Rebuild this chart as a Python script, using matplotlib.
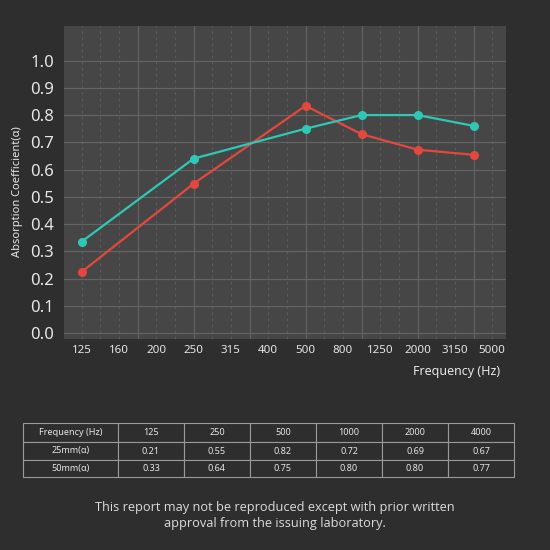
import numpy as np
import matplotlib
matplotlib.use("Agg")
import matplotlib.pyplot as plt

# ---- data ----
tick_freqs = [125, 160, 200, 250, 315, 400, 500, 800, 1250, 2000, 3150, 5000]
freqs = [125, 250, 500, 1000, 2000, 4000]
plot_25mm = [0.224, 0.548, 0.834, 0.73, 0.673, 0.654]
plot_50mm = [0.335, 0.64, 0.75, 0.80, 0.80, 0.76]
table_freqs = ["125", "250", "500", "1000", "2000", "4000"]
table_25mm = ["0.21", "0.55", "0.82", "0.72", "0.69", "0.67"]
table_50mm = ["0.33", "0.64", "0.75", "0.80", "0.80", "0.77"]
y_ticks = [0.0, 0.1, 0.2, 0.3, 0.4, 0.5, 0.6, 0.7, 0.8, 0.9, 1.0]

BG = "#2f2e2f"
PANEL = "#474646"
TXT = "#e6e6e6"
RED = "#e3483e"
TEAL = "#2ec8b6"

plt.rcParams['font.family'] = ['Noto Sans', 'DejaVu Sans']

fig = plt.figure(figsize=(5.5, 5.5), dpi=100, facecolor=BG)
W = H = 550.0
ax = fig.add_axes([64 / W, 1 - 339 / H, 442 / W, 313 / H])
ax.set_facecolor(PANEL)
for s in ax.spines.values():
    s.set_visible(False)

# map frequency to position on the band axis (log interpolation between labels)
tick_pos = np.arange(len(tick_freqs))
def fpos(f):
    return np.interp(np.log(f), np.log(tick_freqs), tick_pos)

xp = fpos(np.array(freqs, dtype=float))

ax.set_xlim(-0.47, 11.37)
ax.set_ylim(-0.022, 1.127)

# grid
for k in np.arange(0, 11.01, 0.5):
    if abs((k / 1.5) - round(k / 1.5)) < 1e-6 and k > 0:
        ax.axvline(k, color="#626161", lw=0.9, zorder=1)
    else:
        ax.axvline(k, color="#5b5a5a", lw=0.8, ls=(0, (2.5, 3)), zorder=1)
for yv in y_ticks:
    ax.axhline(yv, color="#646363", lw=0.9, zorder=1)

ax.plot(xp, plot_25mm, color=RED, lw=1.6, marker="o", ms=5.5, zorder=3)
ax.plot(xp, plot_50mm, color=TEAL, lw=1.6, marker="o", ms=5.5, zorder=3)

ax.set_xticks(tick_pos)
ax.set_xticklabels([str(t) for t in tick_freqs], fontsize=8.3, color=TXT)
ax.set_yticks(y_ticks)
ax.set_yticklabels([f"{v:.1f}" for v in y_ticks], fontsize=12, color=TXT)
ax.tick_params(axis="x", length=0, pad=4)
ax.tick_params(axis="y", length=0, pad=7)

fig.text(18 / W, 1 - 192 / H, "Absorption Coefficient(α)", rotation=90,
         ha="center", va="center", fontsize=8, color=TXT)
fig.text(500 / W, 1 - 371 / H, "Frequency (Hz)", ha="right", va="center",
         fontsize=9, color=TXT)

# table
tax = fig.add_axes([23 / W, 1 - 477 / H, 491 / W, 54 / H])
tax.axis("off")
cells = [["Frequency (Hz)"] + table_freqs,
         ["25mm(α)"] + table_25mm,
         ["50mm(α)"] + table_50mm]
first_w = 95.0
other_w = (491.0 - first_w) / 6
col_w = [first_w / 491] + [other_w / 491] * 6
tbl = tax.table(cellText=cells, cellLoc="center", colWidths=col_w,
                bbox=[0, 0, 1, 1])
tbl.auto_set_font_size(False)
heights = [19 / 54, 18 / 54, 17 / 54]
for (r, c), cell in tbl.get_celld().items():
    cell.set_facecolor(BG)
    cell.set_edgecolor("#9a9a9a")
    cell.set_linewidth(0.8)
    cell.get_text().set_color(TXT)
    cell.get_text().set_fontsize(6.5)
    cell.set_height(heights[r])

foot_font = ["Open Sans", "DejaVu Sans"]
fig.text(0.5, 1 - 508 / H, "This report may not be reproduced except with prior written",
         ha="center", va="center", fontsize=9.2, color="#dcdcdc", family=foot_font)
fig.text(0.5, 1 - 523 / H, "approval from the issuing laboratory.",
         ha="center", va="center", fontsize=9.2, color="#dcdcdc", family=foot_font)

fig.savefig("out.png", dpi=100, facecolor=BG)
